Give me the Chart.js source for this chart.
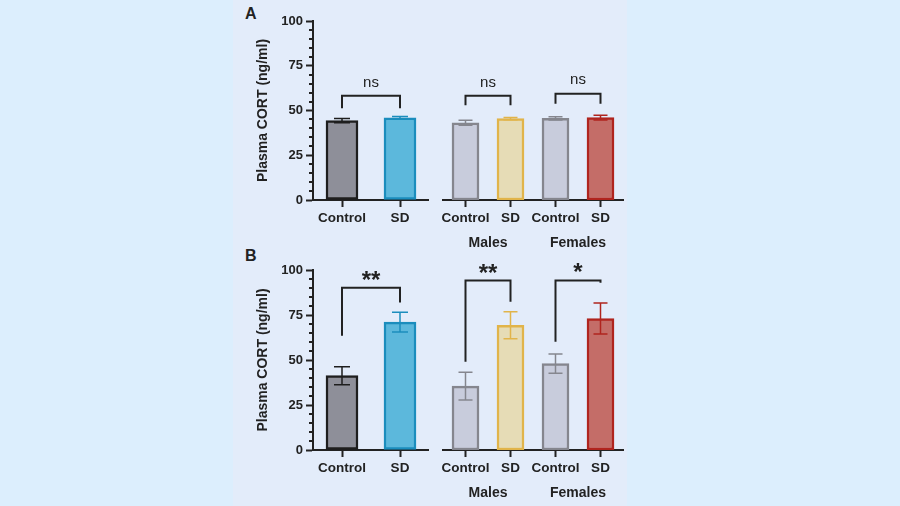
<!DOCTYPE html>
<html>
<head>
<meta charset="utf-8">
<script src="https://cdn.jsdelivr.net/npm/chart.js@4.4.0/dist/chart.umd.min.js"></script>
<style>
body { margin:0; background:#dceefd; width:900px; height:506px; overflow:hidden; position:relative; font-family:"Liberation Sans", Arial, sans-serif; }
#panel { position:absolute; left:233px; top:0; width:394px; height:506px; background:#e3ecfa; }
canvas { position:absolute; }
.lbl { position:absolute; font-weight:bold; font-size:16px; color:#222; }
</style>
</head>
<body>
<div id="panel"></div>
<div class="lbl" style="left:245px;top:5px">A</div>
<div class="lbl" style="left:245px;top:247px">B</div>
<canvas id="aLeft" width="194" height="250" style="left:235px;top:0px"></canvas>
<canvas id="aRight" width="192" height="250" style="left:437px;top:0px"></canvas>
<canvas id="bLeft" width="194" height="256" style="left:235px;top:250px"></canvas>
<canvas id="bRight" width="192" height="256" style="left:437px;top:250px"></canvas>
<script>
// categories
var pooledLabels = ['Control', 'SD'];
var sexLabels = ['Control', 'SD', 'Control', 'SD'];
var sexGroups = ['Males', 'Females'];
var yTitle = 'Plasma CORT (ng/ml)';

// panel A values (mean, error)
var cortA = [44.4, 45.9];
var cortAErr = [1.2, 0.7];
var cortASex = [43.1, 45.5, 45.6, 46.0];
var cortASexErr = [1.4, 0.6, 0.9, 1.3];

// panel B values
var cortB = [41.3, 71.0];
var cortBErr = [5.0, 5.5];
var cortBSex = [35.5, 69.3, 48.0, 73.0];
var cortBSexErr = [7.7, 7.5, 5.3, 8.6];

// significance brackets: from, to, top, left leg end, right leg end, text, text level
var sigA = [[0, 1, 58.3, 51.3, 51.3, 'ns', 65.5]];
var sigASex = [[0, 1, 58.3, 53, 53, 'ns', 65.5], [2, 3, 59.4, 53.8, 53.8, 'ns', 67]];
var sigB = [[0, 1, 90.2, 63.5, 82, '**', 96.3]];
var sigBSex = [[0, 1, 94.1, 49, 82.4, '**', 100.5], [2, 3, 94.1, 60.2, 92.9, '*', 101]];

var pooledFill = ['#8e8f99', '#5cb8dc'];
var pooledLine = ['#1e1e1e', '#1b8dbd'];
var sexFill = ['#c8ccdc', '#e6dcb6', '#c8ccdc', '#c46d68'];
var sexLine = ['#85868e', '#e1b44a', '#85868e', '#b0241e'];

var ink = '#222';

var errPlugin = {
	id: 'errbars',
	afterDatasetsDraw: function(chart, args, opts) {
		var ctx = chart.ctx;
		var y = chart.scales.y;
		var meta = chart.getDatasetMeta(0);
		var vals = chart.data.datasets[0].data;
		ctx.save();
		ctx.lineWidth = 1.5;
		for (var i = 0; i < vals.length; i++) {
			var x = meta.data[i].x;
			var hi = y.getPixelForValue(vals[i] + opts.err[i]);
			var lo = y.getPixelForValue(vals[i] - opts.err[i]);
			ctx.strokeStyle = opts.colors[i];
			ctx.beginPath();
			ctx.moveTo(x, hi); ctx.lineTo(x, lo);
			ctx.moveTo(x - opts.cap / 2, hi); ctx.lineTo(x + opts.cap / 2, hi);
			ctx.moveTo(x - opts.cap / 2, lo); ctx.lineTo(x + opts.cap / 2, lo);
			ctx.stroke();
		}
		// significance brackets
		ctx.strokeStyle = ink;
		ctx.fillStyle = ink;
		ctx.lineWidth = 2;
		ctx.textAlign = 'center';
		ctx.textBaseline = 'middle';
		opts.sig.forEach(function(s) {
			var x1 = meta.data[s[0]].x, x2 = meta.data[s[1]].x;
			var t = y.getPixelForValue(s[2]);
			ctx.beginPath();
			ctx.moveTo(x1, y.getPixelForValue(s[3]));
			ctx.lineTo(x1, t);
			ctx.lineTo(x2, t);
			ctx.lineTo(x2, y.getPixelForValue(s[4]));
			ctx.stroke();
			var ty = y.getPixelForValue(s[6]);
			if (s[5] === 'ns') {
				ctx.font = '15px "Liberation Sans", Arial, sans-serif';
				ctx.fillText(s[5], (x1 + x2) / 2, ty);
			} else {
				ctx.font = 'bold 24px "Liberation Sans", Arial, sans-serif';
				ctx.fillText(s[5], (x1 + x2) / 2, ty + 5);
			}
		});
		ctx.restore();
	}
};

var minorPlugin = {
	id: 'minorticks',
	afterDraw: function(chart) {
		var y = chart.scales.y;
		if (!y.options.display) return;
		var ctx = chart.ctx;
		var left = chart.chartArea.left;
		ctx.save();
		ctx.strokeStyle = ink;
		ctx.lineWidth = 2;
		y.ticks.forEach(function(t) {
			if (t.value % 25 === 0) return;
			var p = Math.round(y.getPixelForValue(t.value));
			ctx.beginPath();
			ctx.moveTo(left - 4, p); ctx.lineTo(left, p);
			ctx.stroke();
		});
		ctx.restore();
	}
};

function makeChart(id, labels, values, errs, sig, fills, lines, withY, barW, capW, padTop, groupH) {
	var ctx = document.getElementById(id);
	var scales = {
		x: {
			weight: 0,
			offset: true,
			grid: { drawOnChartArea: false, offset: false, tickLength: 7, tickWidth: 2, tickColor: ink },
			border: { display: true, width: 2, color: ink },
			ticks: { color: ink, padding: 3, maxRotation: 0, autoSkip: false, font: { family: 'Liberation Sans', size: 13.5, weight: 'bold' } },
			afterFit: function(s) { s.height = 28; }
		},
		y: {
			display: withY,
			min: 0, max: 100,
			ticks: {
				stepSize: 5, autoSkip: false, padding: 3, color: ink,
				font: { family: 'Liberation Sans', size: 13, weight: 'bold' },
				callback: function(v) { return v % 25 === 0 ? v : ''; }
			},
			grid: {
				drawOnChartArea: false, tickLength: 7, tickWidth: 2,
				tickColor: function(c) { return c.tick && c.tick.value % 25 === 0 ? ink : 'rgba(0,0,0,0)'; }
			},
			border: { display: true, width: 2, color: ink },
			title: {
				display: true, text: yTitle, color: ink, padding: { top: 20, bottom: 0 },
				font: { family: 'Liberation Sans', size: 14, weight: 'bold' }
			}
		}
	};
	if (withY) {
		scales.y.afterFit = function(s) { s.width = 78; };
	} else {
		scales.x2 = {
			type: 'category',
			labels: sexGroups,
			position: 'bottom',
			weight: 1,
			offset: true,
			grid: { display: false, drawTicks: false },
			border: { display: false },
			ticks: { color: ink, padding: 7, maxRotation: 0, font: { family: 'Liberation Sans', size: 14, weight: 'bold' } },
			afterFit: function(s) { s.height = groupH; }
		};
	}
	var config = {
		type: 'bar',
		data: {
			labels: labels,
			datasets: [{
				data: values,
				backgroundColor: fills,
				borderColor: lines,
				borderWidth: 2.5,
				borderSkipped: false,
				barThickness: barW
			}]
		},
		options: {
			responsive: false,
			animation: false,
			layout: { padding: { top: padTop, left: withY ? 0 : 6, right: withY ? 0 : 6, bottom: withY ? groupH : 0 } },
			plugins: {
				legend: { display: false },
				tooltip: { enabled: false },
				errbars: { err: errs, colors: lines, cap: capW, sig: sig }
			},
			scales: scales
		},
		plugins: [errPlugin, minorPlugin]
	};
	return new Chart(ctx, config);
}

makeChart('aLeft', pooledLabels, cortA, cortAErr, sigA, pooledFill, pooledLine, true, 32, 16, 21, 22);
makeChart('aRight', sexLabels, cortASex, cortASexErr, sigASex, sexFill, sexLine, false, 27, 14, 21, 22);
makeChart('bLeft', pooledLabels, cortB, cortBErr, sigB, pooledFill, pooledLine, true, 32, 16, 20, 28);
makeChart('bRight', sexLabels, cortBSex, cortBSexErr, sigBSex, sexFill, sexLine, false, 27, 14, 20, 28);
</script>
</body>
</html>
